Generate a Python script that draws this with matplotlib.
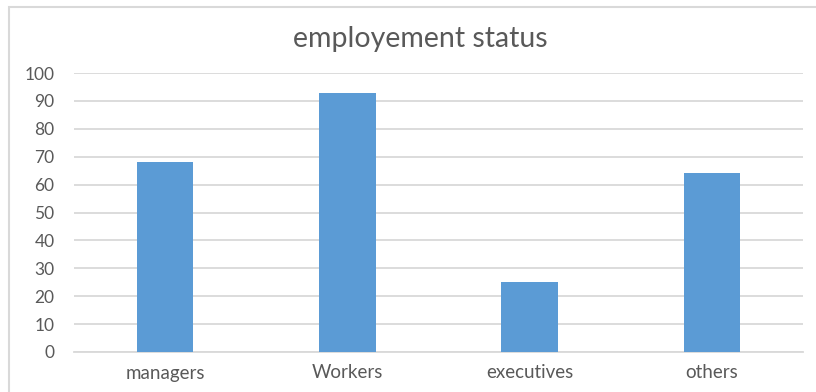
import matplotlib
matplotlib.use('Agg')
import matplotlib.pyplot as plt
from matplotlib.patches import Rectangle

categories = ['managers', 'Workers', 'executives', 'others']
counts = [68, 93, 25, 64]
yticks = list(range(0, 101, 10))

text_color = '#595959'
grid_color = '#D9D9D9'
bar_color = '#5B9BD5'

plt.rcParams['font.family'] = ['Lato', 'DejaVu Sans']

fig = plt.figure(figsize=(8.16, 3.92), dpi=100)
ax = fig.add_axes([74 / 816, 40 / 392, 729 / 816, 279 / 392])

# chart frame (left and top edges visible)
fig.patches.append(Rectangle((9 / 816, -0.1), 1.0, (392 - 7) / 392 + 0.1,
                             transform=fig.transFigure, fill=False,
                             edgecolor=grid_color, linewidth=1.5))

x = range(len(categories))
ax.bar(x, counts, width=0.31, color=bar_color, zorder=3)

ax.set_xlim(-0.5, len(categories) - 0.5)
ax.set_ylim(0, 100)
ax.set_yticks(yticks)
ax.set_xticks(list(x))
ax.set_xticklabels(categories)
ax.yaxis.grid(True, color=grid_color, linewidth=1.3, zorder=0)
ax.set_axisbelow(True)

for side in ['top', 'right', 'left']:
    ax.spines[side].set_visible(False)
ax.spines['bottom'].set_color(grid_color)
ax.spines['bottom'].set_linewidth(1.3)

ax.tick_params(axis='both', length=0, colors=text_color)
ax.tick_params(axis='y', pad=14, labelsize=12.5)
ax.tick_params(axis='x', pad=9, labelsize=13.5)

fig.text(420 / 816, 1 - 39 / 392, 'employement status', ha='center', va='center',
         fontsize=20.5, color=text_color)

plt.savefig('out.png', dpi=100)
